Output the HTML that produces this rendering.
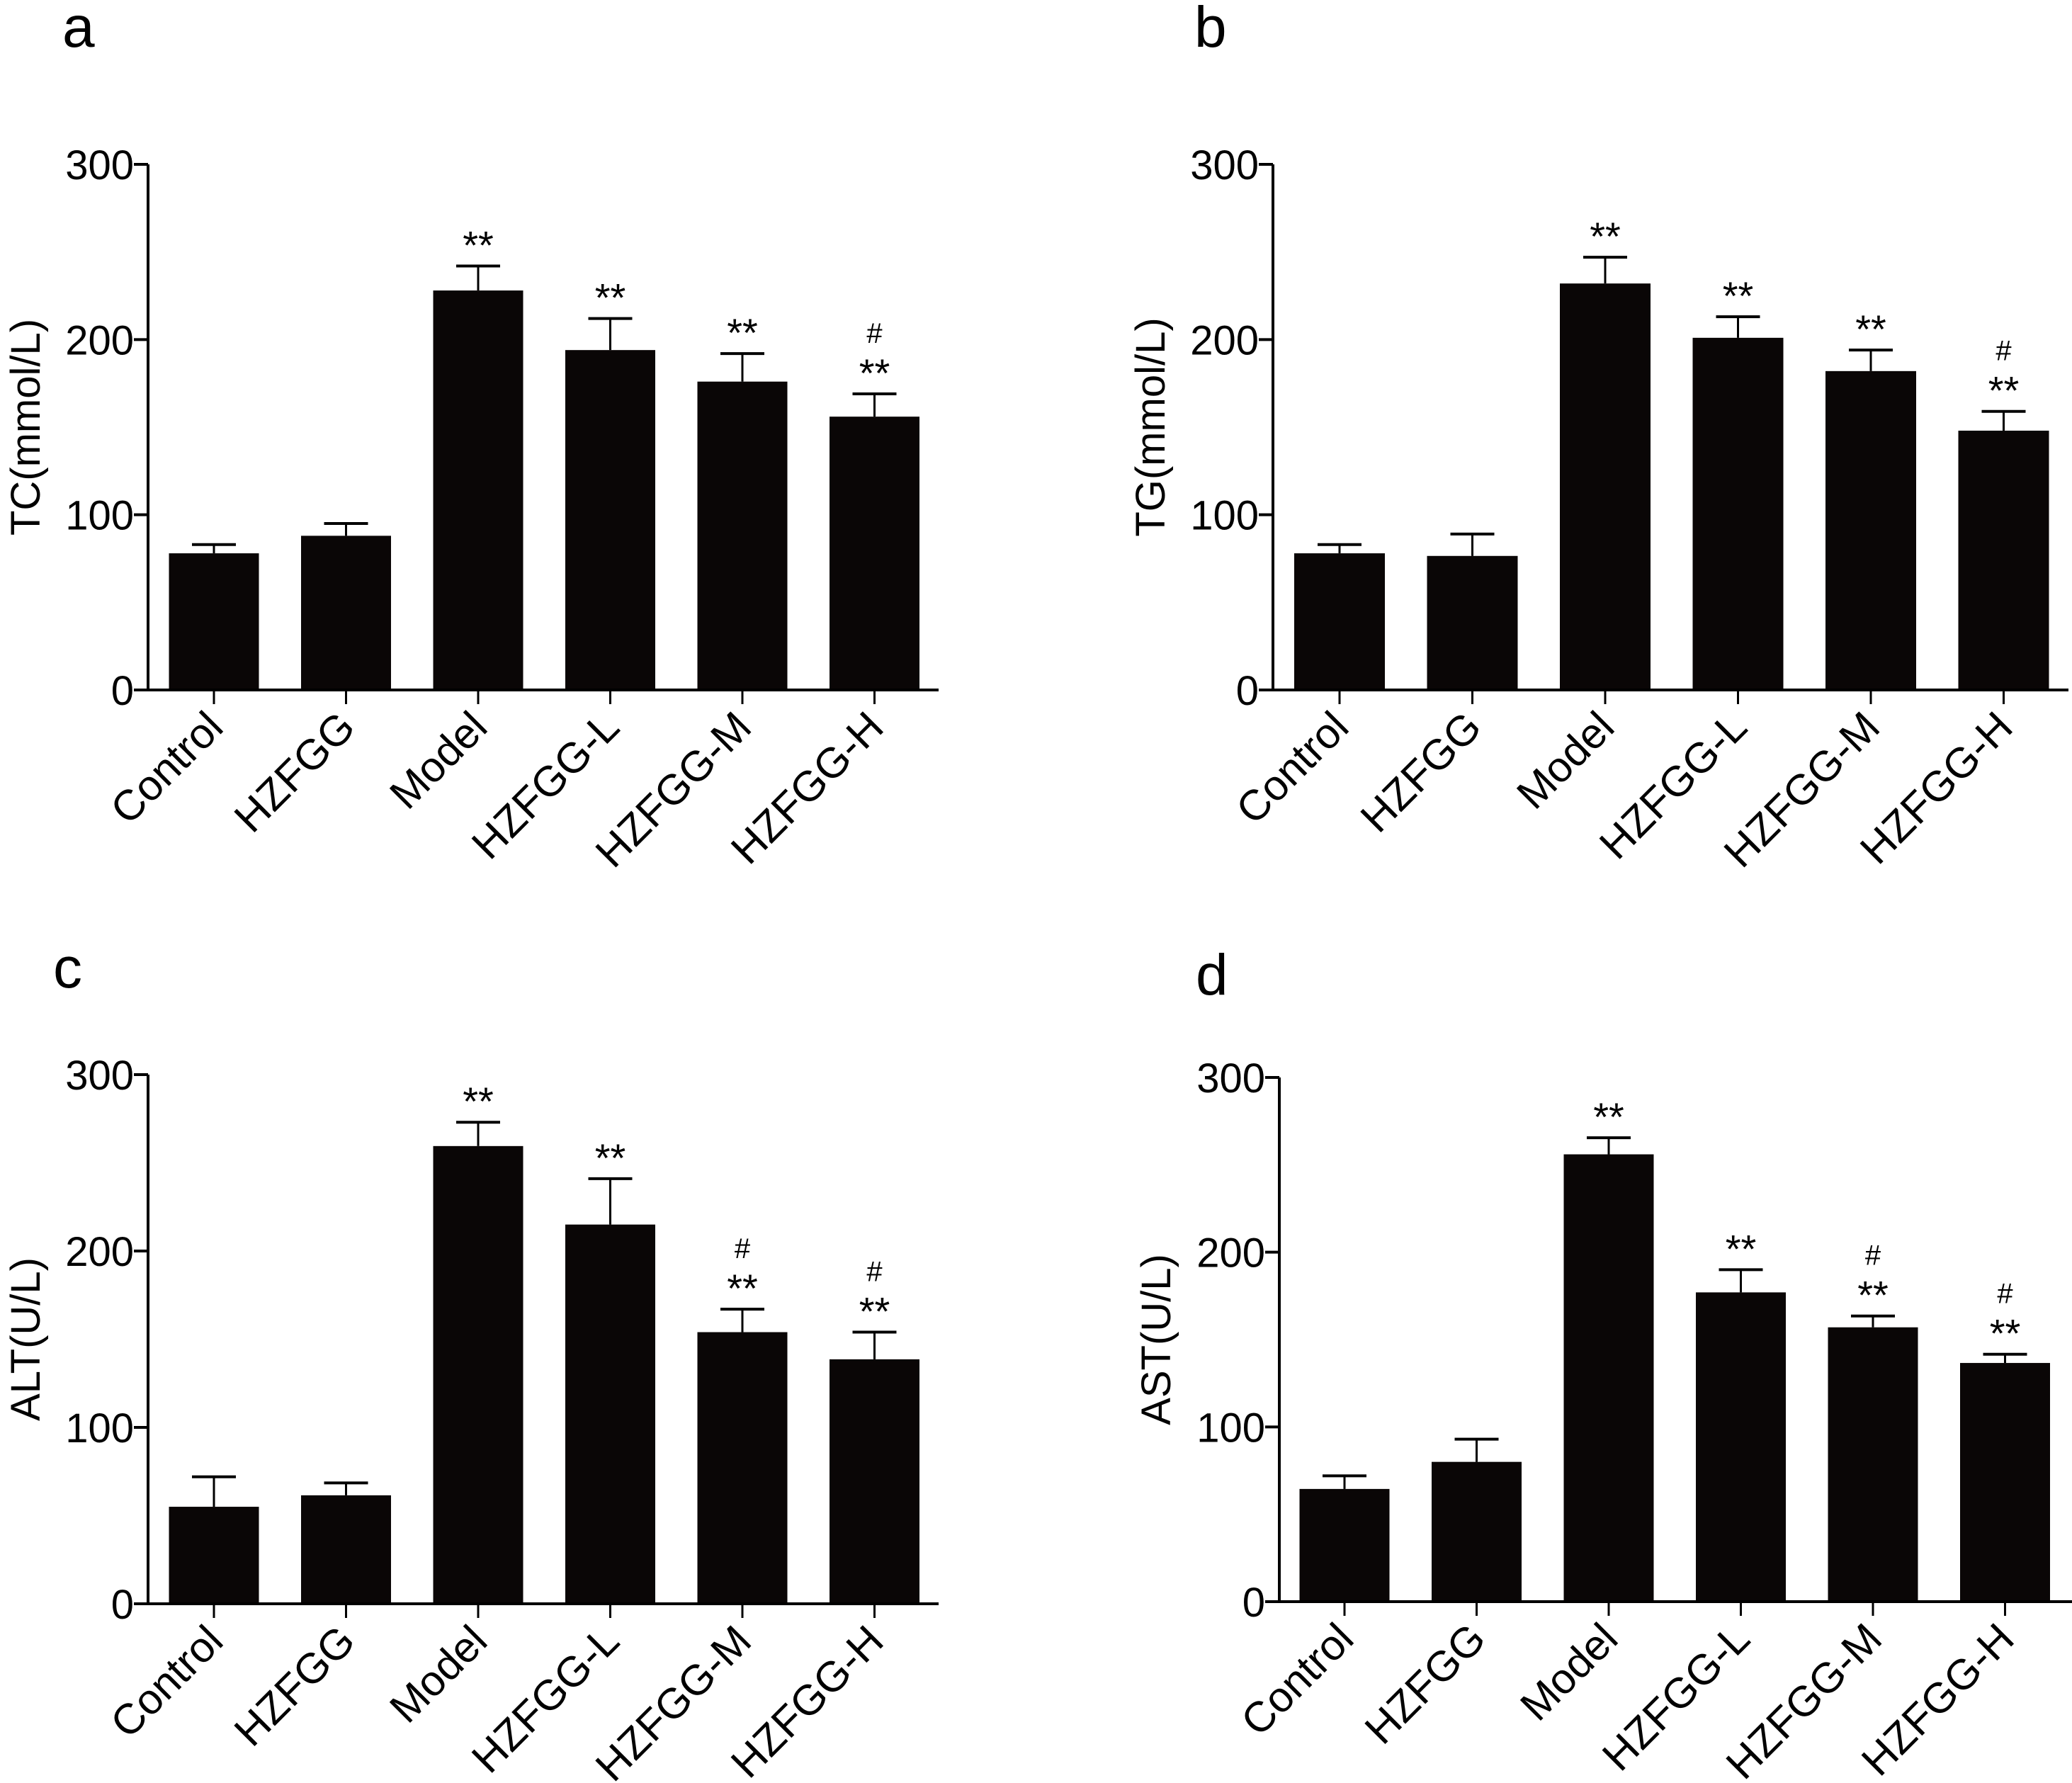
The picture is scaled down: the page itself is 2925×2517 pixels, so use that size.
<!DOCTYPE html>
<html><head><meta charset="utf-8"><style>
html,body{margin:0;padding:0;background:#fff}
svg{display:block}
text{font-family:"Liberation Sans",Arial,sans-serif;fill:#000}
</style></head><body>
<svg id="fig" width="2925" height="2517" viewBox="0 0 2925 2517" xmlns="http://www.w3.org/2000/svg"></svg>
<script>
const categories = ["Control","HZFGG","Model","HZFGG-L","HZFGG-M","HZFGG-H"];
const yTicks = [0,100,200,300];
const tcMeans = [78,88,228,194,176,156];
const tcErr = [5,7,14,18,16,13];
const tcMarks = ["","","**","**","**","#**"];
const tgMeans = [78,76.5,232,201,182,148];
const tgErr = [5,12.5,15,12,12,11];
const tgMarks = ["","","**","**","**","#**"];
const altMeans = [55,61.5,259.5,215,154,138.6];
const altErr = [17,7,13.5,26,13,15.4];
const altMarks = ["","","**","**","#**","#**"];
const astMeans = [64.5,80,256,177,157,136.6];
const astErr = [7.5,13,9.5,13,6.5,5];
const astMarks = ["","","**","**","#**","#**"];

const svg = document.getElementById('fig');
const NS = 'http://www.w3.org/2000/svg';
function mk(tag, attrs, parent){const e=document.createElementNS(NS,tag);for(const k in attrs)e.setAttribute(k,attrs[k]);(parent||svg).appendChild(e);return e;}

function panel(p){
  const g = mk('g',{});
  
  
  const yS = v => p.y0 - (p.y0 - p.y300) * v / 300;
  const xS = i => p.c0 + p.step * i;
  const lt = mk('text',{x:p.lx,y:p.ly,'font-size':82},g); lt.textContent=p.letter;
  
  
  for(let i=0;i<categories.length;i++){
    const top=yS(p.means[i]), et=yS(p.means[i]+p.err[i]);
    const el=mk('line',{x1:xS(i),x2:xS(i),y1:top,y2:et,stroke:'#000','stroke-width':3},g);
    
    
    const cap=mk('line',{x1:xS(i)-31,x2:xS(i)+31,y1:et,y2:et,stroke:'#000','stroke-width':4},g);
    
    
    const r=mk('rect',{x:xS(i)-p.bw/2,y:top,width:p.bw,height:p.y0-top,fill:'#0a0606'},g);
    
    
    const m=p.marks[i];
    if(m.indexOf('**')>=0){
      const t=mk('text',{x:xS(i),y:et-10,'font-size':56,'text-anchor':'middle'},g); t.textContent='**';
      
      
    }
    if(m.indexOf('#')>=0){
      const t=mk('text',{x:xS(i),y:et-72,'font-size':40,'text-anchor':'middle'},g); t.textContent='#';
      
      
    }
    const tk=mk('line',{x1:xS(i),x2:xS(i),y1:p.y0,y2:p.y0+20,stroke:'#000','stroke-width':3},g);
    
    
    const cl=mk('text',{x:xS(i)+16,y:p.y0+56,'font-size':60,'text-anchor':'end',transform:`rotate(-45 ${xS(i)+16} ${p.y0+56})`},g);
    cl.textContent=categories[i];
    
    
  }
  const ya=mk('line',{x1:p.ax,x2:p.ax,y1:p.y300,y2:p.y0+2,stroke:'#000','stroke-width':4},g);
  
  
  const xa=mk('line',{x1:p.ax-20,x2:p.xend,y1:p.y0,y2:p.y0,stroke:'#000','stroke-width':4},g);
  
  
  for(const v of yTicks){
    const y=yS(v);
    const t=mk('line',{x1:p.ax-20,x2:p.ax,y1:y,y2:y,stroke:'#000','stroke-width':4},g);
    
    
    const l=mk('text',{x:p.ax-20,y:y+21,'font-size':58,'text-anchor':'end'},g); l.textContent=v;
    
    
  }
  const cy=(p.y0+p.y300)/2;
  const yt=mk('text',{x:p.tx,y:cy,'font-size':58,'text-anchor':'middle',transform:`rotate(-90 ${p.tx} ${cy})`},g);
  yt.textContent=p.title;
  
  
}

panel({letter:'a',lx:88,ly:66,ax:209,y0:974,y300:232,c0:302,step:186.5,bw:127,xend:1325,tx:56,title:'TC(mmol/L)',means:tcMeans,err:tcErr,marks:tcMarks});
panel({letter:'b',lx:1686,ly:66,ax:1797,y0:974,y300:232,c0:1891,step:187.5,bw:128,xend:2920,tx:1644,title:'TG(mmol/L)',means:tgMeans,err:tgErr,marks:tgMarks});
panel({letter:'c',lx:75,ly:1394,ax:209,y0:2264,y300:1517,c0:302,step:186.5,bw:127,xend:1325,tx:56,title:'ALT(U/L)',means:altMeans,err:altErr,marks:altMarks});
panel({letter:'d',lx:1688,ly:1404,ax:1806,y0:2261,y300:1521,c0:1898,step:186.5,bw:127,xend:2925,tx:1652,title:'AST(U/L)',means:astMeans,err:astErr,marks:astMarks});
</script>
</body></html>
